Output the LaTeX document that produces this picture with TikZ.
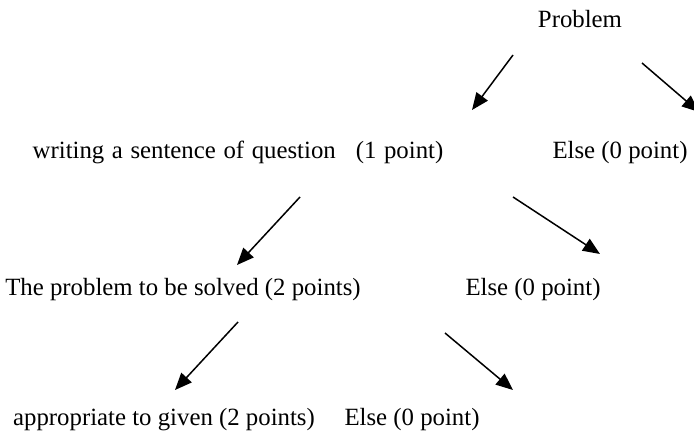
\documentclass[tikz,border=0pt]{standalone}
\usepackage{fontspec}
\setmainfont{Liberation Serif}
\usetikzlibrary{arrows.meta}

\begin{document}
\begin{tikzpicture}[x=0.5pt,y=-0.5pt,
  txt/.style={anchor=base, inner sep=0pt, font=\fontsize{12.4}{15}\selectfont},
  arr/.style={line width=0.75pt, -{Triangle[length=8.5pt,width=7pt]}}]
  \useasboundingbox (0,0) rectangle (694,442);

  % rows of the scoring tree
  \node[txt] (problem) at (580,28) {Problem};
  \node[txt] (question) at (238,159)
       {\spaceskip=3.8pt\relax writing a sentence of question\hspace{10pt}(1 point)};
  \node[txt] (else1) at (620,159) {Else (0 point)};
  \node[txt] (solved) at (183,296) {The problem to be solved (2 points)};
  \node[txt] (else2) at (533,296) {Else (0 point)};
  \node[txt] (given) at (164,425) {appropriate to given (2 points)};
  \node[txt] (else3) at (412,425) {Else (0 point)};

  % arrow ends
  \coordinate (p-l) at (513,55);  \coordinate (q-top) at (472,110);
  \coordinate (p-r) at (642,63);  \coordinate (e1-top) at (699,112);
  \coordinate (q-l) at (300,197); \coordinate (s-top) at (237,265);
  \coordinate (q-r) at (513,197); \coordinate (e2-top) at (600,254);
  \coordinate (s-l) at (238,322); \coordinate (g-top) at (175,390);
  \coordinate (s-r) at (445,333); \coordinate (e3-top) at (513,390);

  \draw[arr] (p-l) -- (q-top);
  \draw[arr] (p-r) -- (e1-top);
  \draw[arr] (q-l) -- (s-top);
  \draw[arr] (q-r) -- (e2-top);
  \draw[arr] (s-l) -- (g-top);
  \draw[arr] (s-r) -- (e3-top);
\end{tikzpicture}
\end{document}
